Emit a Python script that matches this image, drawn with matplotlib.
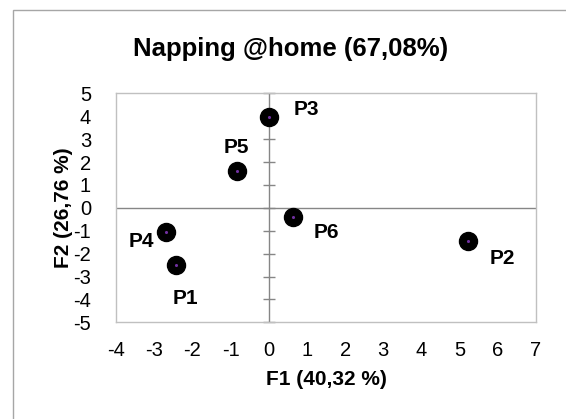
import matplotlib

matplotlib.use("Agg")
import matplotlib.pyplot as plt
from matplotlib.patches import Rectangle

plt.rcParams["font.family"] = ["Liberation Sans", "DejaVu Sans"]
plt.rcParams["axes.unicode_minus"] = False

# product coordinates on the first two factors
labels = ["P1", "P2", "P3", "P4", "P5", "P6"]
f1 = [-2.43, 5.22, 0.0, -2.70, -0.83, 0.63]
f2 = [-2.50, -1.45, 3.95, -1.07, 1.60, -0.39]

# label offsets in pixels (dx right, dy up)
offsets = {
    "P1": (9, -33),
    "P2": (34, -17),
    "P3": (38, 8),
    "P4": (-24, -9),
    "P5": (-1, 24),
    "P6": (34, -16),
}

x_ticks = list(range(-4, 8))
y_ticks = list(range(-5, 6))

W, H = 566, 419
fig = plt.figure(figsize=(W / 100, H / 100), dpi=100)

# outer chart border (cropped at right/bottom)
fig.patches.append(
    Rectangle((12.5 / W, -0.1), 1.2, 1 - 10.5 / H + 0.1,
              transform=fig.transFigure, fill=False,
              edgecolor="#a6a6a6", lw=1.0)
)

left, right, top, bottom = 116, 536, 93.3, 322.3
ax = fig.add_axes([left / W, 1 - bottom / H, (right - left) / W, (bottom - top) / H])
ax.set_xlim(-4, 7)
ax.set_ylim(-5, 5)

for s in ax.spines.values():
    s.set_color("#c0c0c0")
    s.set_linewidth(1.0)

ax.set_xticks(x_ticks)
ax.set_yticks(y_ticks)
ax.tick_params(axis="x", length=0, pad=13.5, labelsize=14.5)
ax.tick_params(axis="y", length=0, pad=18, labelsize=14.5)

# axes through the origin
ax.axhline(0, color="#868686", lw=1.0, zorder=1)
ax.axvline(0, color="#868686", lw=1.0, zorder=1)
ax.plot([0] * len(y_ticks), y_ticks, ls="none", marker="_", ms=9,
        mew=1.0, color="#868686", clip_on=False, zorder=1)

ax.scatter(f1, f2, s=18 ** 2 * 0.52, color="black", zorder=3)
ax.scatter(f1, f2, s=1.5, color="#7030a0", zorder=4)

for name, x, y in zip(labels, f1, f2):
    dx, dy = offsets[name]
    ax.annotate(name, (x, y), xytext=(dx, dy), textcoords="offset pixels",
                ha="center", va="center", fontsize=15, fontweight="bold")

ax.set_xlabel("F1 (40,32 %)", fontsize=15, fontweight="bold", labelpad=7)
ax.set_ylabel("F2 (26,76 %)", fontsize=15, fontweight="bold", labelpad=0)
fig.text(291 / W, 1 - 49 / H, "Napping @home (67,08%)", ha="center",
         va="center", fontsize=18.5, fontweight="bold")

fig.savefig("out.png", dpi=100, facecolor="white")
